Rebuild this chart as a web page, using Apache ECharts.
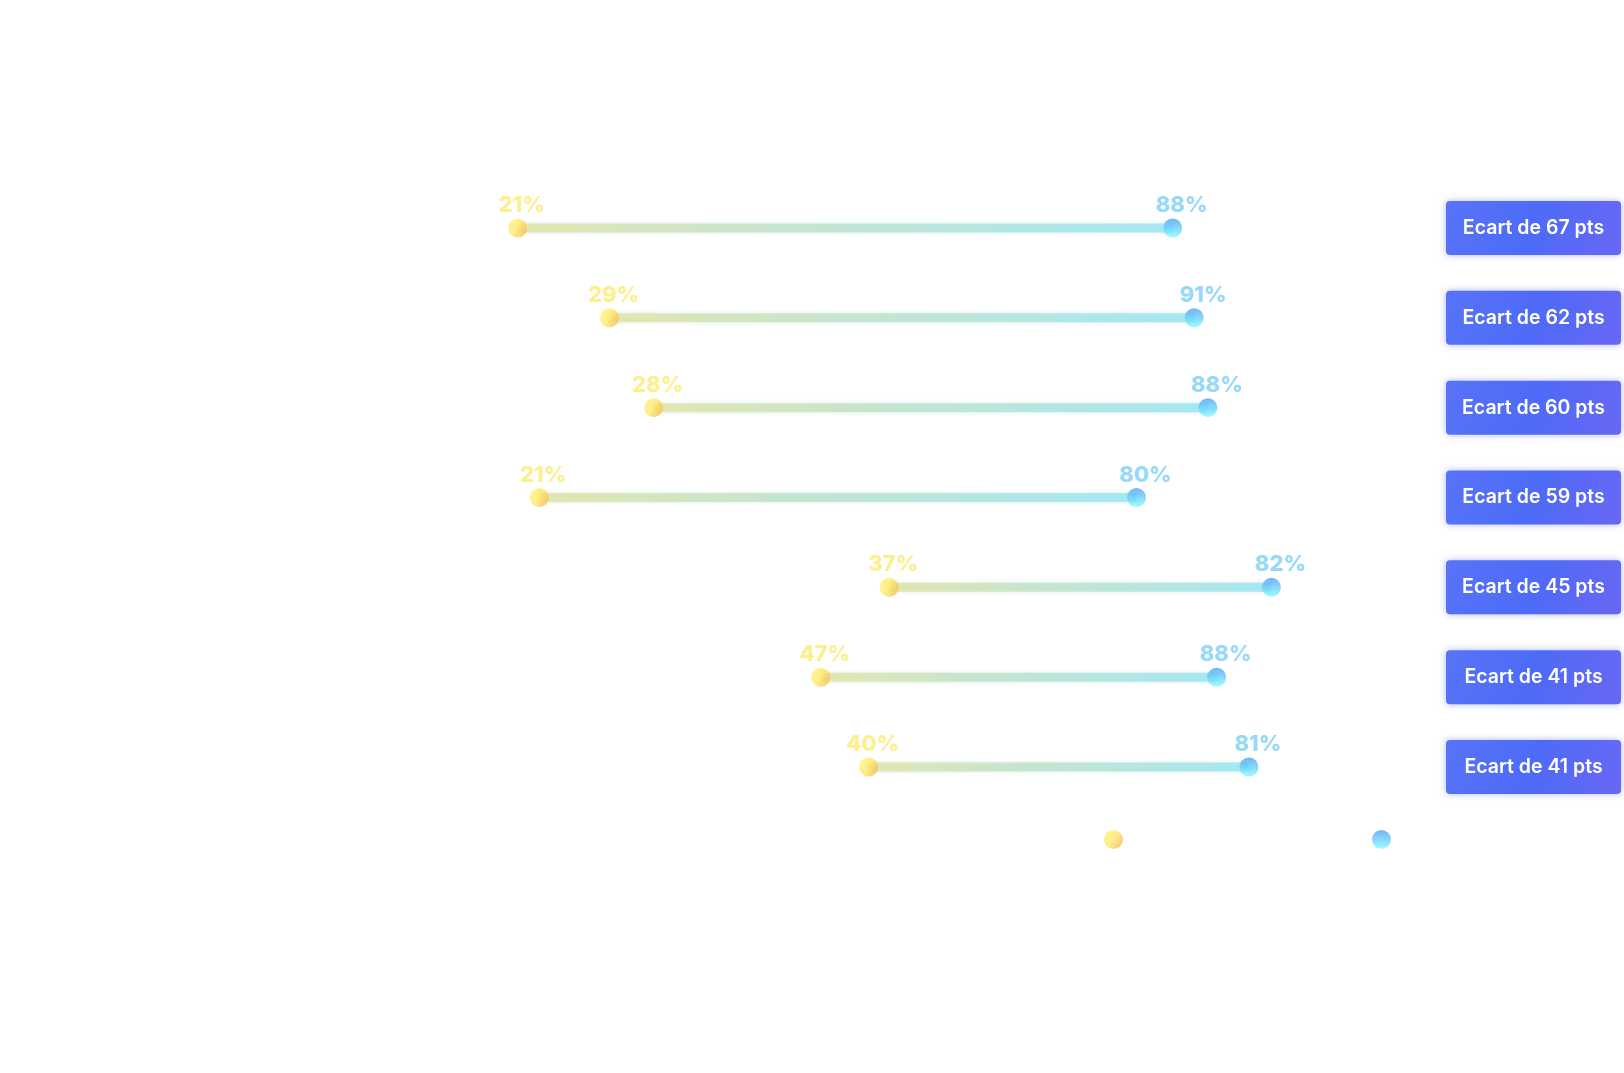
<!DOCTYPE html>
<html>
<head>
<meta charset="utf-8">
<script src="https://cdn.jsdelivr.net/npm/echarts@6/dist/echarts.min.js"></script>
<style>
html,body{margin:0;padding:0;background:#fff;}
#main{width:1624px;height:1073px;}
</style>
</head>
<body>
<div id="main"></div>
<script>
// Data
const categories = ['Critère 1','Critère 2','Critère 3','Critère 4','Critère 5','Critère 6','Critère 7'];
// values printed on the chart (%)
const startLabels = [21, 29, 28, 21, 37, 47, 40];
const endLabels = [88, 91, 88, 80, 82, 88, 81];
// positions of the dots as read on the horizontal scale
const startValues = [21, 30.4, 34.9, 23.2, 59.0, 52.0, 56.9];
const endValues = [88, 90.2, 91.6, 84.3, 98.1, 92.5, 95.8];
const seriesNames = ['Groupe A', 'Groupe B'];

const gaps = startLabels.map((s, i) => endLabels[i] - s);

const chart = echarts.init(document.getElementById('main'));
const FONT = 'Inter, "Noto Sans", sans-serif';

const yellowDot = new echarts.graphic.LinearGradient(0, 0, 1, 0.6, [
  {offset: 0, color: '#fff47c'},
  {offset: 0.55, color: '#ffe96c'},
  {offset: 1, color: '#f5c25a'}
]);
const blueDot = new echarts.graphic.LinearGradient(0, 0, 0, 1, [
  {offset: 0, color: '#4f9ff6'},
  {offset: 1, color: '#86fdff'}
]);

chart.setOption({
  backgroundColor: '#ffffff',
  animation: false,
  grid: {left: 312.4, right: 332.5, top: 183, height: 629, containLabel: false},
  xAxis: {
    type: 'value', min: 0, max: 100,
    axisLine: {show: false}, axisTick: {show: false},
    axisLabel: {show: false}, splitLine: {show: false}
  },
  yAxis: [
    {
      type: 'category', data: categories, inverse: true,
      axisLine: {show: false}, axisTick: {show: false},
      axisLabel: {show: false}, splitLine: {show: false}
    },
    {
      type: 'category', data: categories, inverse: true, position: 'right',
      axisLine: {show: false}, axisTick: {show: false}, splitLine: {show: false},
      axisLabel: {
        show: true, margin: 156, align: 'left',
        formatter: function (v, i) { return '{b|Ecart de ' + gaps[i] + ' pts}'; },
        rich: {
          b: {
            width: 175, height: 54, lineHeight: 54, align: 'center',
            fontFamily: FONT, fontSize: 19.5, fontWeight: 600, color: '#ffffff',
            borderRadius: 4,
            backgroundColor: new echarts.graphic.LinearGradient(0, 0, 1, 1, [
              {offset: 0, color: '#5873f8'},
              {offset: 0.5, color: '#4d6bf7'},
              {offset: 1, color: '#6967f4'}
            ]),
            shadowBlur: 7, shadowColor: 'rgba(95,115,245,0.5)'
          }
        }
      }
    }
  ],
  legend: [
    {
      data: [seriesNames[0]], left: 1099, top: 825, icon: 'circle',
      itemWidth: 19, itemHeight: 19,
      textStyle: {color: '#ffffff', fontFamily: FONT, fontSize: 16}
    },
    {
      data: [seriesNames[1]], left: 1367, top: 825, icon: 'circle',
      itemWidth: 19, itemHeight: 19,
      textStyle: {color: '#ffffff', fontFamily: FONT, fontSize: 16}
    }
  ],
  series: [
    {
      type: 'custom',
      name: 'connector',
      silent: true,
      data: categories.map((c, i) => [startValues[i], endValues[i], i]),
      encode: {x: [0, 1], y: 2},
      renderItem: function (params, api) {
        const p1 = api.coord([api.value(0), api.value(2)]);
        const p2 = api.coord([api.value(1), api.value(2)]);
        const h = 9;
        return {
          type: 'rect',
          shape: {x: p1[0], y: p1[1] - h / 2, width: p2[0] - p1[0], height: h},
          style: {
            fill: new echarts.graphic.LinearGradient(0, 0, 1, 0, [
              {offset: 0, color: 'rgba(228,228,160,0.8)'},
              {offset: 0.4, color: 'rgba(192,226,200,0.8)'},
              {offset: 1, color: 'rgba(155,230,245,0.85)'}
            ]),
            shadowBlur: 4, shadowColor: 'rgba(185,225,215,0.7)'
          },
          z2: 1
        };
      },
      z: 1
    },
    {
      type: 'scatter',
      name: seriesNames[0],
      data: startValues.map((v, i) => [v, i]),
      symbol: 'circle', symbolSize: 19,
      itemStyle: {color: yellowDot},
      label: {
        show: true, position: 'top', distance: 2, offset: [4, 0],
        formatter: p => startLabels[p.dataIndex] + '%',
        fontFamily: FONT, fontSize: 22, fontWeight: 800, color: '#fdea72'
      },
      z: 3
    },
    {
      type: 'scatter',
      name: seriesNames[1],
      data: endValues.map((v, i) => [v, i]),
      symbol: 'circle', symbolSize: 19,
      itemStyle: {color: blueDot},
      label: {
        show: true, position: 'top', distance: 2, offset: [9, 0],
        formatter: p => endLabels[p.dataIndex] + '%',
        fontFamily: FONT, fontSize: 22, fontWeight: 800, color: '#7dcff8'
      },
      z: 3
    }
  ]
});
</script>
</body>
</html>
